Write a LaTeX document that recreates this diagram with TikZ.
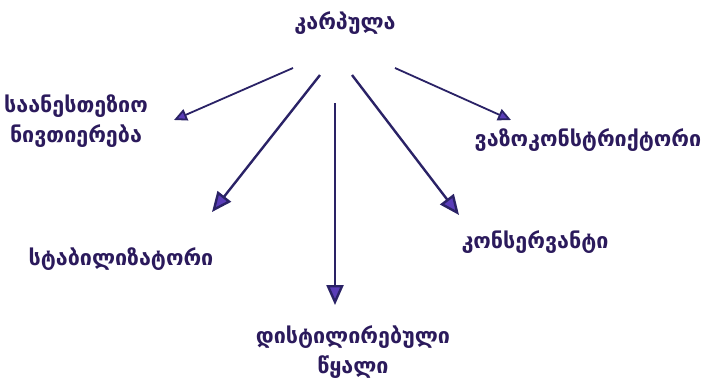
\documentclass[tikz,border=0pt]{standalone}
\usepackage{fontspec}
\newfontfamily\geo{DejaVu Sans}
\usetikzlibrary{arrows.meta}
\definecolor{txt}{HTML}{2B1A5C}
\definecolor{ln}{HTML}{2A2266}
\definecolor{hd}{HTML}{5A3DB8}
\tikzset{
  lbl/.style={text=txt, font=\geo\bfseries\fontsize{21.5}{30}\selectfont, align=center, inner sep=0pt},
  arr/.style={draw=ln, line width=2.4pt, -{Triangle[length=20pt,width=17pt,fill=hd]}},
  arrs/.style={draw=ln, line width=1.8pt, -{Triangle[length=13pt,width=12pt,fill=hd]}}
}
\begin{document}
\begin{tikzpicture}[x=1pt,y=-1pt]
\useasboundingbox[fill=white] (0,0) rectangle (705,389);
\node[lbl] (top) at (345,23) {კარპულა};
\node[lbl] (anest) at (76,121) {საანესთეზიო\\ნივთიერება};
\node[lbl] (vaso) at (588,140) {ვაზოკონსტრიქტორი};
\node[lbl] (stab) at (121,259) {სტაბილიზატორი};
\node[lbl] (kons) at (535,242) {კონსერვანტი};
\node[lbl] (dist) at (353,352) {დისტილირებული\\წყალი};
\coordinate (s1) at (293,68);
\coordinate (e1) at (174,120);
\coordinate (s2) at (320,75);
\coordinate (e2) at (212,212);
\coordinate (s3) at (335,103);
\coordinate (e3) at (335,305);
\coordinate (s4) at (352,75);
\coordinate (e4) at (459,215);
\coordinate (s5) at (395,68);
\coordinate (e5) at (511,120);
\draw[arrs] (s1) -- (e1);
\draw[arr] (s2) -- (e2);
\draw[arr] (s3) -- (e3);
\draw[arr] (s4) -- (e4);
\draw[arrs] (s5) -- (e5);
\end{tikzpicture}
\end{document}
